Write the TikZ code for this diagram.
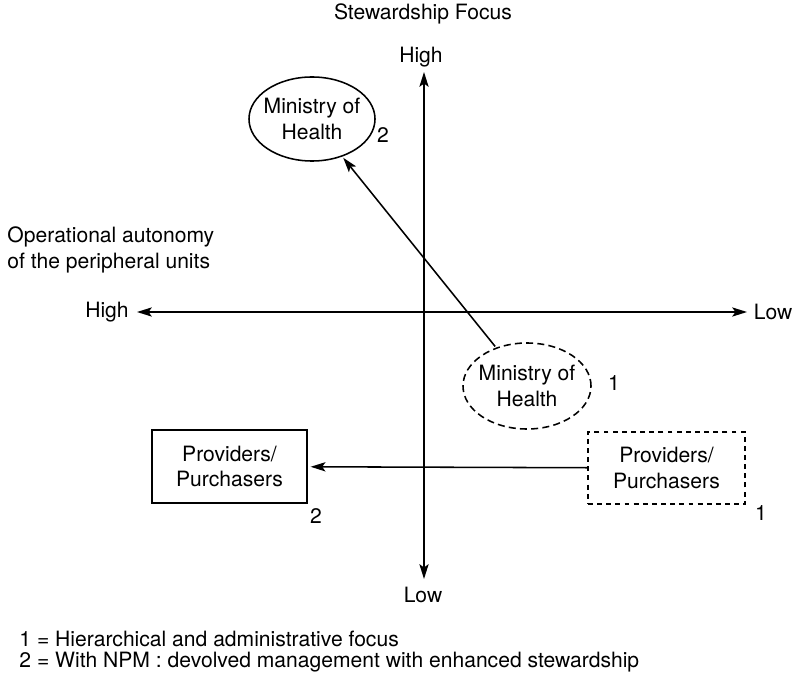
\documentclass[tikz,border=0pt]{standalone}
\usepackage{fontspec}
\setmainfont{TeX Gyre Heros}
\usepackage{tikz}
\usepackage{xcolor}
\usetikzlibrary{arrows.meta}
\usetikzlibrary{shapes}

\tikzset{tip/.style={-{Stealth[length=3.7mm,width=2.3mm,inset=0.8mm]}}}
\tikzset{bitip/.style={{Stealth[length=3.7mm,width=2.3mm,inset=0.8mm]}-{Stealth[length=3.7mm,width=2.3mm,inset=0.8mm]}}}
\tikzset{ministry/.style={ellipse,inner xsep=-3pt,inner ysep=0pt,align=center,draw}}
\tikzset{provider/.style={rectangle,align=center,draw}}

\begin{document}
\begin{tikzpicture}[x=0.025cm,y=-0.025cm, line width=1.1pt, every node/.style={font=\fontsize{15}{18}\selectfont}, shorten <=1pt, shorten >=1pt]

    \useasboundingbox (0,0) rectangle (794,682);

    %===========================
    % Axes
    %===========================

    \node (title) at (423,14) {Stewardship Focus};
    \node (vhigh) at (421,57) {High};
    \node (vlow) at (423,595) {Low};
    \node (hhigh) at (107,312) {High};
    \node (hlow) at (773,312) {Low};
    \node (autonomy) [anchor=west,align=left] at (2,250) {Operational autonomy\\of the peripheral units};

    \coordinate (T) at (424,72);
    \coordinate (B) at (424,579);
    \coordinate (L) at (137,312);
    \coordinate (R) at (747,312);
    \draw[bitip, shorten <=0pt, shorten >=0pt] (T) to (B);
    \draw[bitip, shorten <=0pt, shorten >=0pt] (L) to (R);


    %===========================
    % Ministry of Health
    %===========================
    \draw node (M2) at (312,119) [ministry,minimum width=3.15cm,minimum height=2.1cm]{Ministry of\\Health};
    \node (n2a) at (383,135) {2};

    \draw node (M1) at (527,386) [ministry,dash pattern=on 5pt off 3pt,minimum width=3.2cm,minimum height=2.15cm]{Ministry of\\Health};
    \node (n1a) at (614,383) {1};

    \draw[tip] (M1) to (M2);

    %===========================
    % Providers/Purchasers
    %===========================
    \draw node (P2) at (229.5,466.5) [provider,minimum width=3.875cm,minimum height=1.825cm]{Providers/\\Purchasers};
    \node (n2b) at (316,516) {2};

    \draw node (P1) at (666.5,468) [provider,dash pattern=on 3.5pt off 3pt,minimum width=3.925cm,minimum height=1.8cm]{Providers/\\Purchasers};
    \node (n1b) at (761,513) {1};

    \draw[tip, shorten <=0pt, shorten >=2pt] (P1) to (P2);

    %===========================
    % Legend
    %===========================
    \node (leg1) [anchor=west] at (14,639) {1 = Hierarchical and administrative focus};
    \node (leg2) [anchor=west] at (14,662) {2 = With NPM : devolved management with enhanced stewardship};

\end{tikzpicture}
\end{document}
